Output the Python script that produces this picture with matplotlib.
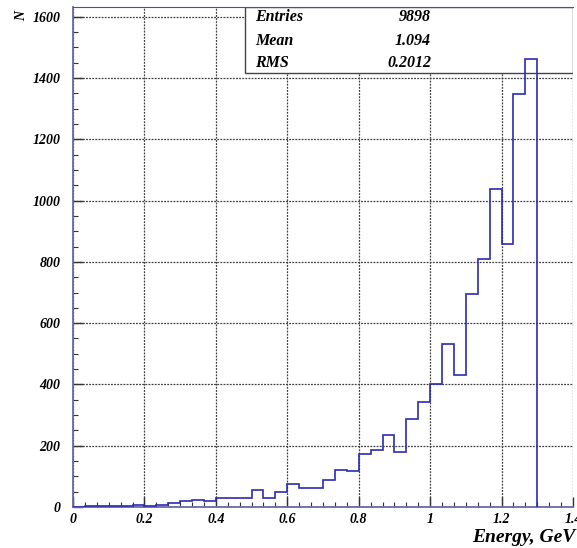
import numpy as np
import matplotlib
matplotlib.use("Agg")
import matplotlib.pyplot as plt
from matplotlib.ticker import MultipleLocator

# histogram contents, 39 bins of width 1/30 GeV from 0 to 1.3
bin_width = 1.0 / 30
counts = [0, 4, 4, 4, 4, 8, 3, 6, 12, 20,
          24, 20, 28, 31, 31, 54, 29, 49, 74, 62,
          62, 88, 122, 119, 172, 185, 234, 179, 287, 342,
          400, 532, 432, 695, 809, 1038, 858, 1347, 1462]
edges = np.arange(len(counts) + 1) * bin_width

stat_names = ["Entries", "Mean", "RMS"]
stat_values = ["9898", "1.094", "0.2012"]

x_ticks = [0, 0.2, 0.4, 0.6, 0.8, 1.0, 1.2, 1.4]
x_labels = ["0", "0.2", "0.4", "0.6", "0.8", "1", "1.2", "1.4"]
y_ticks = [0, 200, 400, 600, 800, 1000, 1200, 1400, 1600]

serif = ["Liberation Serif", "DejaVu Serif"]

fig = plt.figure(figsize=(5.77, 5.48), dpi=100)
ax = fig.add_axes([73 / 577, 41 / 548, 500 / 577, 500 / 548])

ax.stairs(counts, edges, baseline=0, color="#2b2bb5", lw=1.2, zorder=3)

ax.set_xlim(0, 1.4)
ax.set_ylim(0, 1632)
ax.set_xticks(x_ticks)
ax.set_xticklabels(x_labels)
ax.set_yticks(y_ticks)
ax.xaxis.set_minor_locator(MultipleLocator(0.2 / 6))
ax.yaxis.set_minor_locator(MultipleLocator(50))

for lab in ax.get_xticklabels() + ax.get_yticklabels():
    lab.set_fontfamily(serif)
    lab.set_fontweight("bold")
    lab.set_fontstyle("italic")
    lab.set_fontsize(10)

ax.tick_params(which="major", direction="in", length=7, width=1.0,
               color="#333333")
ax.tick_params(axis="y", which="major", pad=9)
ax.tick_params(axis="x", which="major", pad=4)
ax.tick_params(which="minor", direction="in", length=3.5, width=0.8,
               color="#333333")
ax.tick_params(top=False, right=False)

ax.grid(True, which="major", linestyle=(0, (1.5, 1.0)), color="#404040", lw=0.9)

for side in ["left", "bottom"]:
    ax.spines[side].set_color("#6a6aa8")
    ax.spines[side].set_linewidth(1.3)
ax.spines["top"].set_color("#4a4ac0")
ax.spines["right"].set_visible(False)

# statistics box
box_l = (245 - 73) / 500
box_b = (548 - 73 - 41) / 500
ax.add_patch(plt.Rectangle((box_l, box_b), 1 - box_l, 1 - box_b,
                           transform=ax.transAxes, fill=True, fc="white",
                           ec="#444444", lw=1.0, zorder=2))
row_y = [17, 41, 63]
for name, val, yy in zip(stat_names, stat_values, row_y):
    fy = 1 - yy / 548
    fig.text(255 / 577, fy, name, ha="left", va="center", fontsize=11.5,
             family=serif, weight="bold", style="italic")
    fig.text(431 / 577, fy, val, ha="right", va="center", fontsize=11.5,
             family=serif, weight="bold", style="italic")

fig.text(575 / 577, 1 - 537 / 548, "Energy, GeV", ha="right", va="center",
         fontsize=14, family=serif, weight="bold", style="italic")
fig.text(22 / 577, 1 - 16 / 548, "N", ha="center", va="center", rotation=90,
         fontsize=10, family=serif, weight="bold", style="italic")

fig.savefig("out.png", dpi=100)
